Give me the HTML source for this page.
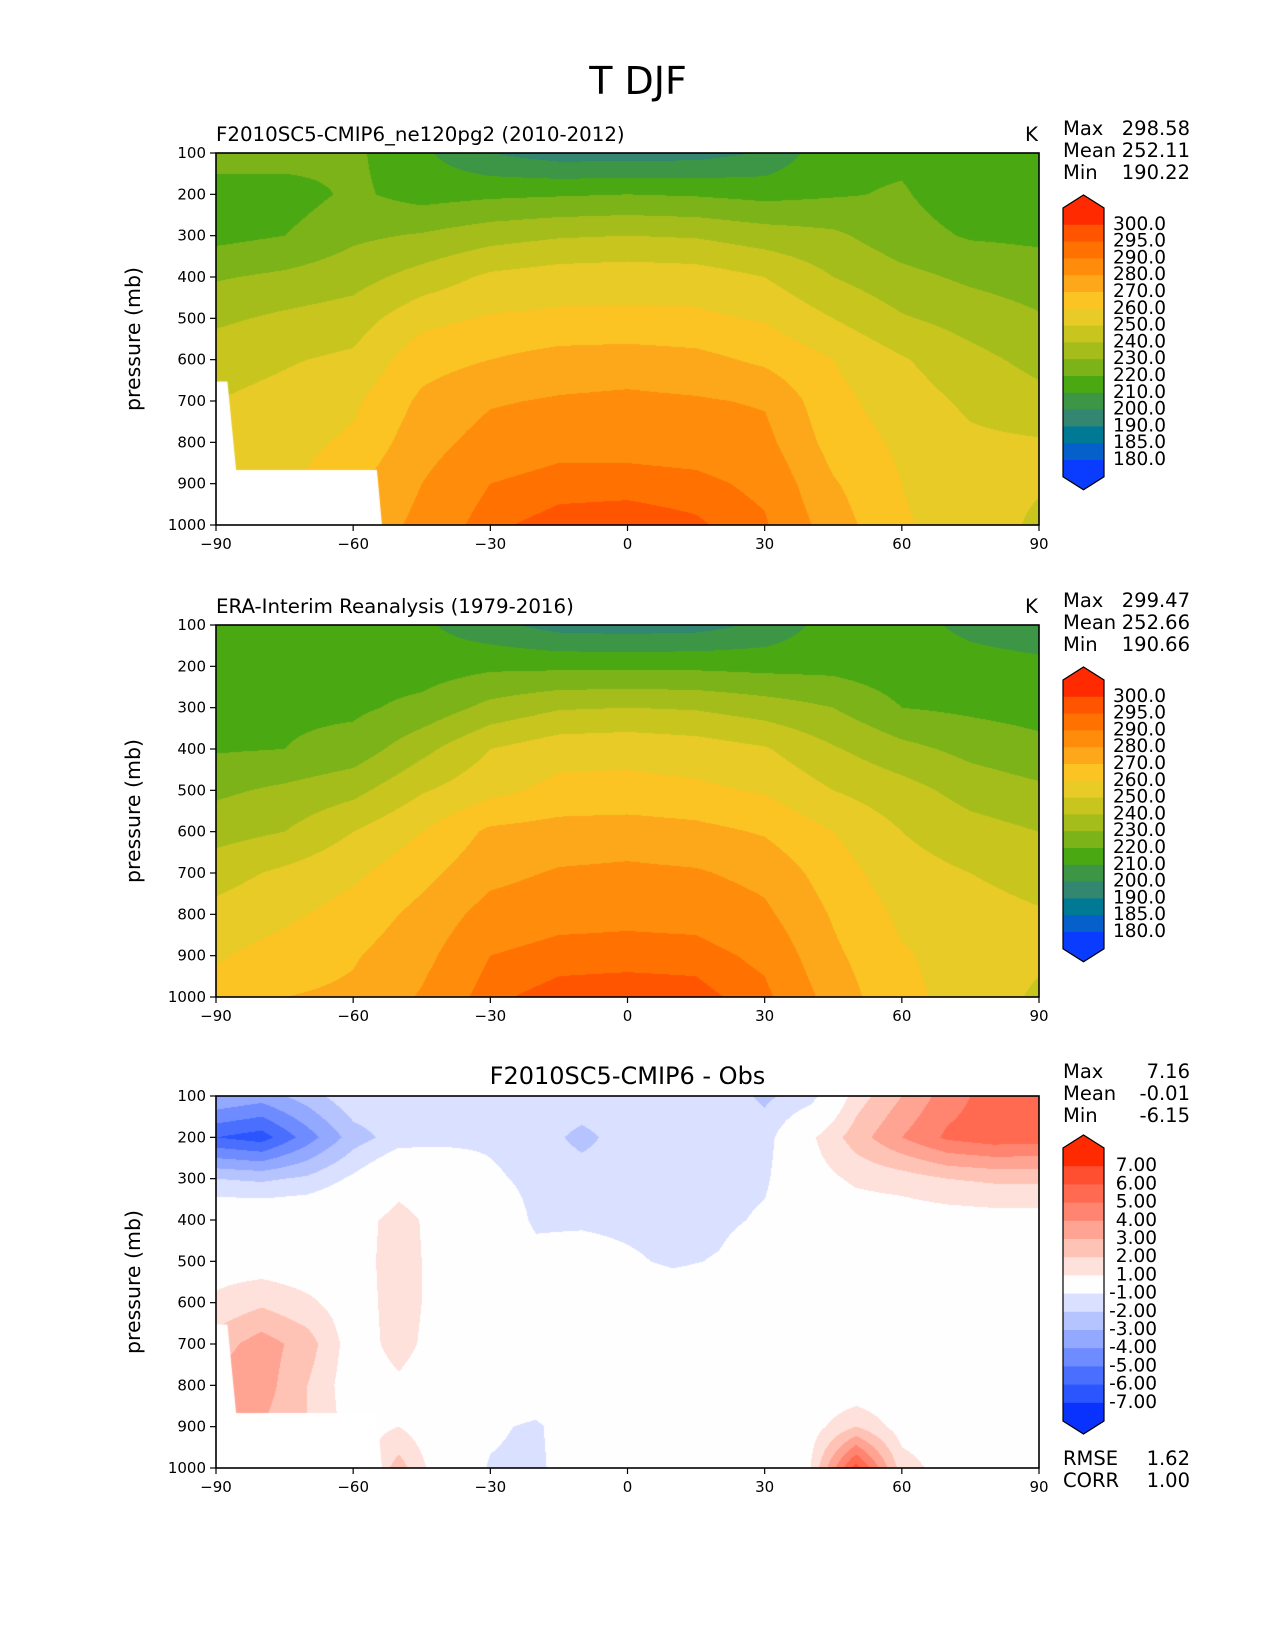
<!DOCTYPE html>
<html><head><meta charset="utf-8">
<style>
body{margin:0;background:#fff;}
#wrap{position:relative;width:1275px;height:1650px;overflow:hidden;font-family:"DejaVu Sans","Liberation Sans",sans-serif;}
canvas{position:absolute;}
svg{position:absolute;left:0;top:0;}
</style></head>
<body>
<div id="wrap">
<canvas id="c1" width="823" height="372" style="left:216px;top:153px"></canvas>
<canvas id="c2" width="823" height="372" style="left:216px;top:625px"></canvas>
<canvas id="c3" width="823" height="372" style="left:216px;top:1096px"></canvas>
<svg id="ov" width="1275" height="1650"></svg>
</div>
<script>
const lats15 = [-90,-75,-60,-45,-30,-15,0,15,30,45,60,75,90];
const lats10 = [-90,-80,-70,-60,-50,-40,-30,-20,-10,0,10,20,30,40,50,60,70,80,90];
const pressures = [100,200,300,400,500,600,700,800,900,1000];
const modelT = [
[225,225,222,212,200,195,195,196,201,218,218,215,215],
[215,215,222,216,218,219,220,219,217,219,221,214,213],
[217,220,228,231,236,239,240,239,235,232,224,219,218],
[229,232,236,244,252,255,256,255,250,240,233,228,225],
[238,242,245,257,261,262,262,262,259,250,241,236,231],
[246,249,252,266,270,274,275,273,268,260,251,243,237],
[250,253,258,272,279,281,282,281,279,263,255,248,243],
[252,256,262,276,284,287,287,286,283,266,258,252,251],
[254,258,268,280,290,293,293,292,288,271,260,254,251],
[256,260,272,283,294,297,298,296,291,275,261,256,248]];
const obsT = [
[214,215,216,212,203,196,195,196,202,215,213,208,205],
[215,216,216,215,218,218,218,218,217,217,214,213,212],
[216,218,218,223,233,239,240,239,235,230,220,218,216],
[219,220,224,237,250,256,257,255,251,241,233,227,223],
[228,232,237,249,257,263,263,262,259,250,244,236,232],
[236,240,250,260,272,274,275,273,269,260,250,244,240],
[246,252,258,267,277,281,282,281,277,265,254,250,246],
[253,258,264,273,284,287,288,287,282,269,258,254,251],
[259,264,269,277,290,293,293,293,288,272,261,256,252],
[263,270,272,281,294,297,298,297,292,276,262,257,248]];
const diffT = [
[-3,-3.5,-2.5,-1.2,-1.1,-1.2,-1.1,-1.2,-1.3,-1.3,-1.3,-1.4,-2.2,-1.5,1.5,3,4.5,5.5,5.5],
[-6,-6.5,-4.5,-2.5,-1.5,-1.3,-1.2,-1.5,-2.3,-1.5,-1.4,-1.5,-1.5,0.8,2.5,4,5.2,5.6,5.5],
[-2,-2.2,-1.8,-0.8,0.5,0,-0.8,-1.3,-1.5,-1.5,-1.5,-1.4,-1.2,0.5,1.2,1.5,2,2.2,2.2],
[0.3,0.3,0.3,0.5,1.4,0.5,0,-1.2,-1.2,-1.3,-1.4,-1.3,-0.8,0.2,0.3,0.3,0.4,0.5,0.5],
[0.5,0.4,0.3,0.5,1.5,0.5,0,-0.6,-0.4,-0.8,-1.2,-0.9,0,0.2,0.2,0.2,0.2,0.2,0.2],
[1.2,1.8,1.2,0.4,1.5,0.5,0,0,0,0,0,0,0,0,0,0,0,0,0],
[2.5,3.5,2.5,0.4,1.4,0.4,0,0,0,0,0,0,0,0,0,0,0,0,0],
[3.5,3.5,2,0.3,0.8,0.2,0,0,0,0,0,0,0,0,0,0,0,0,0],
[3.5,3,2,0.5,1,0,-0.8,-1.2,0,0,0,0,-0.5,0.5,2,0.5,0.3,0,0],
[0,0,0,0,2.5,0,-1.1,-1.3,0,0,0,0,0,1,6.5,1.5,0.5,0,-0.5]];
const tLevels = [180,185,190,200,210,220,230,240,250,260,270,280,290,295,300];
const tLabels = ["300.0","295.0","290.0","280.0","270.0","260.0","250.0","240.0","230.0","220.0","210.0","200.0","190.0","185.0","180.0"];
const tColors = ["#0a3cff","#0560cc","#007a94","#338670","#3c9645","#4aa812","#7bb318","#a5bd1a","#c8c51e","#e8cb26","#fbc423","#fca81a","#ff8c0a","#ff7100","#ff5500","#ff2a00"];
const dLevels = [-7,-6,-5,-4,-3,-2,-1,1,2,3,4,5,6,7];
const dLabels = ["7.00","6.00","5.00","4.00","3.00","2.00","1.00","-1.00","-2.00","-3.00","-4.00","-5.00","-6.00","-7.00"];
const dColors = ["#0a32ff","#2a55ff","#4a6fff","#6e8bff","#93a8ff","#b5c3ff","#dae0ff","#fefefe","#ffe1dc","#ffc3b6","#ffa392","#ff8570","#ff6a50","#ff4e30","#ff2a00"];
const maskPoly = [[-90,653],[-87.5,653],[-85.6,867],[-54.8,867],[-53.7,1000],[-90,1000]];
const xTicks = [-90,-60,-30,0,30,60,90];
const yTicks = [100,200,300,400,500,600,700,800,900,1000];
const stats1 = ["298.58","252.11","190.22"];
const stats2 = ["299.47","252.66","190.66"];
const stats3 = ["7.16","-0.01","-6.15"];

const W=823,H=372;
const xS = lat => (lat+90)/180*W;
const yS = p => (p-100)/900*H;

function hex(c){return [parseInt(c.slice(1,3),16),parseInt(c.slice(3,5),16),parseInt(c.slice(5,7),16)];}
function interp(grid,lats,lat,p){
  let i=0; while(i<lats.length-2 && lat>lats[i+1]) i++;
  let j=0; while(j<pressures.length-2 && p>pressures[j+1]) j++;
  const tx=(lat-lats[i])/(lats[i+1]-lats[i]), ty=(p-pressures[j])/(pressures[j+1]-pressures[j]);
  const a=grid[j][i],b=grid[j][i+1],c=grid[j+1][i],d=grid[j+1][i+1];
  return a*(1-tx)*(1-ty)+b*tx*(1-ty)+c*(1-tx)*ty+d*tx*ty;
}
function render(id,grid,lats,levels,colors,mask){
  const cv=document.getElementById(id),ctx=cv.getContext('2d');
  const img=ctx.createImageData(W,H); const rgb=colors.map(hex);
  for(let y=0;y<H;y++){const p=100+(y+0.5)/H*900;
    for(let x=0;x<W;x++){const lat=-90+(x+0.5)/W*180;
      const v=interp(grid,lats,lat,p); let k=0; while(k<levels.length && v>=levels[k]) k++;
      const c=rgb[k],o=(y*W+x)*4; img.data[o]=c[0];img.data[o+1]=c[1];img.data[o+2]=c[2];img.data[o+3]=255;}}
  ctx.putImageData(img,0,0);
  if(mask){ctx.fillStyle='#fff';ctx.beginPath();
    maskPoly.forEach((q,n)=>{const X=xS(q[0]),Y=yS(q[1]); n?ctx.lineTo(X,Y):ctx.moveTo(X,Y);});
    ctx.closePath();ctx.fill();}
}
render('c1',modelT,lats15,tLevels,tColors,true);
render('c2',obsT,lats15,tLevels,tColors,false);
render('c3',diffT,lats10,dLevels,dColors,true);

const NS='http://www.w3.org/2000/svg', ov=document.getElementById('ov');
function mk(tag,attrs,parent,text){const e=document.createElementNS(NS,tag);for(const k in attrs)e.setAttribute(k,attrs[k]);if(text!==undefined)e.textContent=text;(parent||ov).appendChild(e);return e;}

let t=mk('text',{x:638,y:94,'font-size':38,'text-anchor':'middle',fill:'#000'},ov,'T DJF');



const panels=[
 {top:153,title:'F2010SC5-CMIP6_ne120pg2 (2010-2012)',k:true,stats:stats1,diff:false},
 {top:625,title:'ERA-Interim Reanalysis (1979-2016)',k:true,stats:stats2,diff:false},
 {top:1096,title:'F2010SC5-CMIP6 - Obs',k:false,stats:stats3,diff:true}];
panels.forEach((P,pi)=>{
  const g=mk('g',{transform:'translate(216,'+P.top+')'});
  
  
  const fr=mk('rect',{x:0,y:0,width:W,height:H,fill:'none',stroke:'#000','stroke-width':1.6},g);
  
  
  xTicks.forEach(v=>{const X=xS(v);
    mk('line',{x1:X,x2:X,y1:H,y2:H+6,stroke:'#000','stroke-width':1.2},g);
    const l=mk('text',{x:X,y:H+24,'font-size':15,'text-anchor':'middle'},g,(v<0?'\u2212'+(-v):String(v)));
    
    });
  yTicks.forEach(v=>{const Y=yS(v);
    mk('line',{x1:-6,x2:0,y1:Y,y2:Y,stroke:'#000','stroke-width':1.2},g);
    const l=mk('text',{x:-10,y:Y+5,'font-size':15,'text-anchor':'end'},g,String(v));
    
    });
  const yl=mk('text',{transform:'translate(-76,'+(H/2)+') rotate(-90)','font-size':20.5,'text-anchor':'middle'},g,'pressure (mb)');
  
  
  const tt=P.diff?mk('text',{x:W/2,y:-12,'font-size':24,'text-anchor':'middle'},g,P.title):mk('text',{x:0,y:-12,'font-size':19.8},g,P.title);
  
  
  if(P.k){const kk=mk('text',{x:W-1,y:-12,'font-size':19.8,'text-anchor':'end'},g,'K');
    
    }
  ['Max','Mean','Min'].forEach((n,i)=>{const Y=P.top-18+i*22;
    const a=mk('text',{x:1063,y:Y,'font-size':19.5},ov,n);
    
    
    const b=mk('text',{x:1190,y:Y,'font-size':19.5,'text-anchor':'end'},ov,P.stats[i]);
    
    });
  const cb=mk('g',{});
  
  
  const x0=1063,x1=1104,xm=(x0+x1)/2;
  const cols=P.diff?dColors:tColors, labs=P.diff?dLabels:tLabels;
  const top=P.diff?1148:P.top+55, bh=P.diff?18.2:16.8, n=cols.length, bot=top+n*bh;
  for(let i=0;i<n;i++){mk('rect',{x:x0,y:top+i*bh,width:x1-x0,height:bh+0.6,fill:cols[n-1-i]},cb);}
  mk('polygon',{points:x0+','+top+' '+xm+','+(top-13)+' '+x1+','+top,fill:cols[n-1]},cb);
  mk('polygon',{points:x0+','+bot+' '+xm+','+(bot+13)+' '+x1+','+bot,fill:cols[0]},cb);
  mk('polygon',{points:x0+','+top+' '+xm+','+(top-13)+' '+x1+','+top+' '+x1+','+bot+' '+xm+','+(bot+13)+' '+x0+','+bot,fill:'none',stroke:'#000','stroke-width':1.2},cb);
  labs.forEach((s,i)=>{const Y=top+(i+1)*bh+5;
    const l=P.diff?mk('text',{x:1157,y:Y,'font-size':18.5,'text-anchor':'end'},cb,s):mk('text',{x:1113,y:Y,'font-size':18.5},cb,s);
    
    });
});
[['RMSE','1.62',1465],['CORR','1.00',1487]].forEach(r=>{
  const a=mk('text',{x:1063,y:r[2],'font-size':19.5},ov,r[0]);
  
  
  const b=mk('text',{x:1190,y:r[2],'font-size':19.5,'text-anchor':'end'},ov,r[1]);
  
  });
</script>
</body></html>
